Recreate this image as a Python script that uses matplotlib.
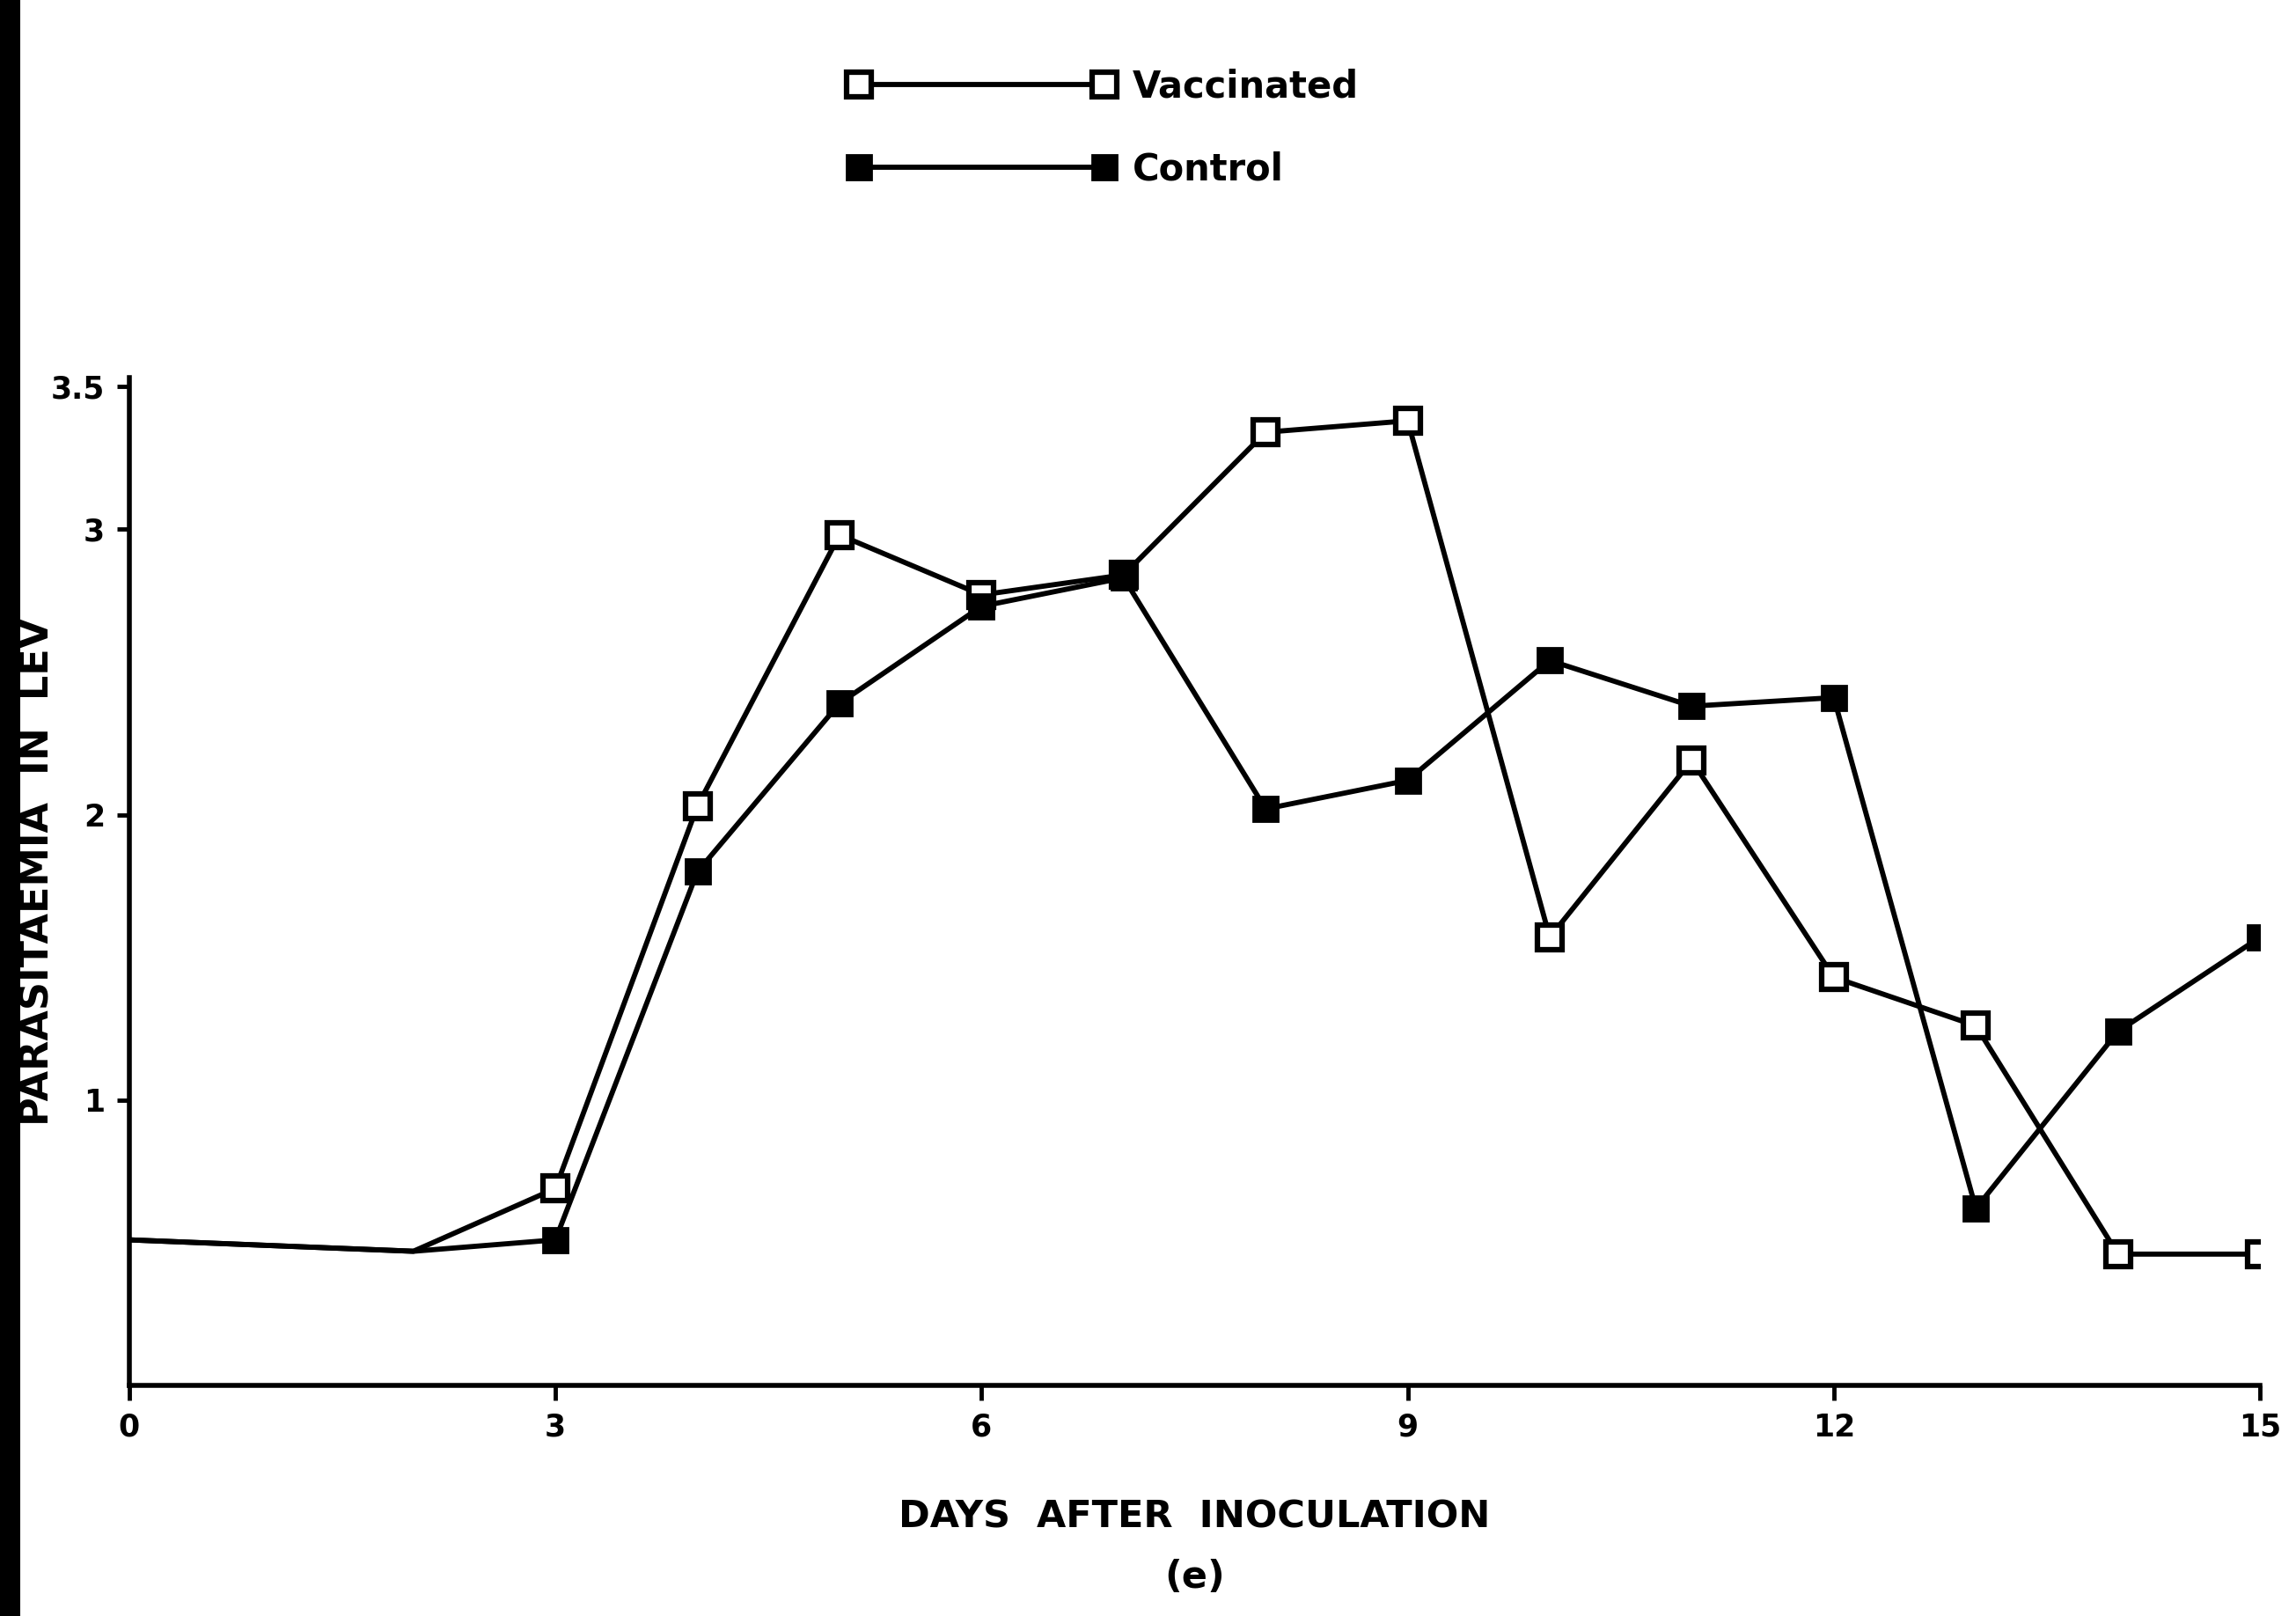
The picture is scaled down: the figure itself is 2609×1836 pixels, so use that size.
import matplotlib
matplotlib.use("Agg")
import matplotlib.pyplot as plt
from matplotlib.patches import Rectangle

plt.rcParams['font.family'] = ['DejaVu Sans']
plt.rcParams['font.weight'] = 'bold'

# values
days = [0, 2, 3, 4, 5, 6, 7, 8, 9, 10, 11, 12, 13, 14, 15]
vaccinated = [0.51, 0.47, 0.69, 2.03, 2.98, 2.77, 2.84, 3.34, 3.38, 1.57, 2.19, 1.43, 1.26, 0.46, 0.46]
control = [0.51, 0.47, 0.51, 1.80, 2.39, 2.73, 2.83, 2.02, 2.12, 2.54, 2.38, 2.41, 0.62, 1.24, 1.57]
xticks = [0, 3, 6, 9, 12, 15]
yticks = [1, 2, 3, 3.5]
ytick_labels = ["1", "2", "3", "3.5"]

fig = plt.figure(figsize=(26.09, 18.36), dpi=100)
ax = fig.add_axes([0.0563, 0.1427, 0.928, 0.6234])

lw = 4.2
ms = 20
marks = list(range(2, len(days)))

ax.plot(days, vaccinated, color="black", lw=lw, marker="s", ms=ms,
        mfc="white", mec="black", mew=4.5, markevery=marks, label="Vaccinated", zorder=3)
ax.plot(days, control, color="black", lw=lw, marker="s", ms=ms,
        mfc="black", mec="black", mew=2, markevery=marks, label="Control", zorder=3)

ax.set_xlim(0, 15)
ax.set_ylim(0, 3.53)
ax.set_xticks(xticks)
ax.set_xticklabels([str(t) for t in xticks], fontsize=25, fontweight="bold")
ax.set_yticks(yticks)
ax.set_yticklabels(ytick_labels, fontsize=25, fontweight="bold")
ax.tick_params(axis="both", direction="out", length=10, width=3.5, pad=10)
ax.tick_params(axis="x", length=12)

for side in ["top", "right"]:
    ax.spines[side].set_visible(False)
for side in ["left", "bottom"]:
    ax.spines[side].set_linewidth(4)

ax.set_ylabel("PARASITAEMIA  IN  LEV", fontsize=32, fontweight="bold")
ax.set_xlabel("DAYS  AFTER  INOCULATION\n(e)", fontsize=31, fontweight="bold",
              labelpad=46, linespacing=1.8)
ax.yaxis.set_label_coords(-0.034, 0.51)

leg = fig.legend(loc="upper left", bbox_to_anchor=(0.355, 0.978), frameon=False,
                 numpoints=2, handlelength=7.3, labelspacing=1.25,
                 handletextpad=0.45, prop={"weight": "bold", "size": 30})

# black scan border on the left edge
fig.add_artist(Rectangle((0, 0), 0.009, 1, transform=fig.transFigure,
                         facecolor="black", edgecolor="none"))

fig.savefig("out.png", dpi=100, facecolor="white")
